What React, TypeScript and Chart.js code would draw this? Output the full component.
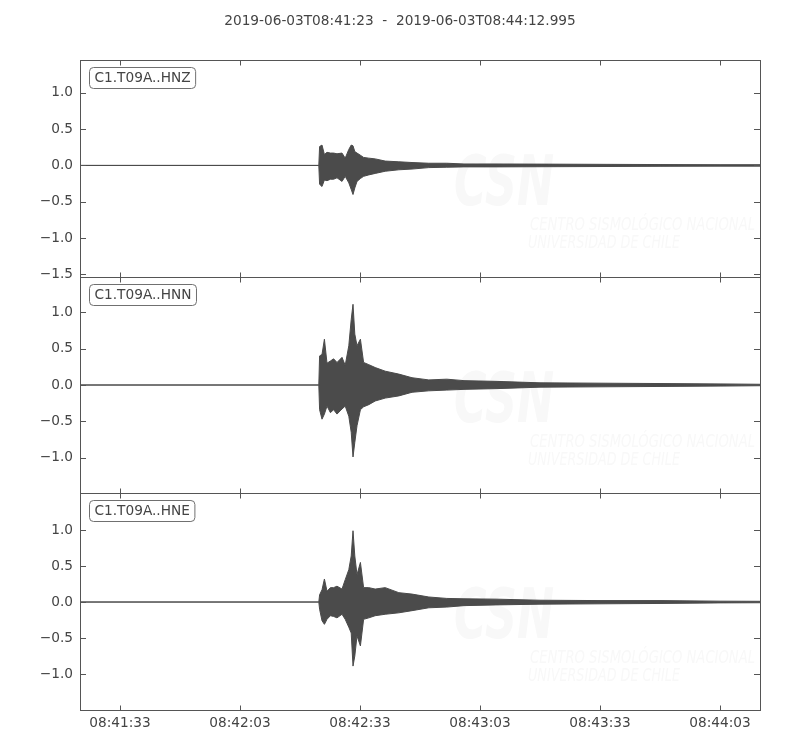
import { useEffect, useRef } from 'react'
import { Chart, registerables } from 'chart.js'

Chart.register(...registerables)

const TITLE = '2019-06-03T08:41:23  -  2019-06-03T08:44:12.995'
const channels = ['C1.T09A..HNZ', 'C1.T09A..HNN', 'C1.T09A..HNE']

// seconds after 08:41:23 (envelope sample times)
const times = [0, 59.7, 59.9, 60.5, 61.1, 61.75, 62.6, 63.4, 64.25, 65.5, 66.3, 67.2, 67.8, 68.25, 68.7, 69.25, 70.1, 70.9, 72.2, 73.8, 76.3, 79.7, 83, 87.2, 91.7, 96, 104, 115, 130, 145, 160, 170]

// upper / lower envelope of each trace
const hnzUpper = [0, 0, 0.26, 0.28, 0.15, 0.18, 0.17, 0.17, 0.16, 0.17, 0.10, 0.22, 0.28, 0.27, 0.19, 0.17, 0.14, 0.11, 0.10, 0.09, 0.06, 0.05, 0.04, 0.03, 0.03, 0.02, 0.02, 0.018, 0.015, 0.012, 0.01, 0.01]
const hnzLower = [0, 0, -0.26, -0.29, -0.20, -0.21, -0.19, -0.19, -0.17, -0.22, -0.15, -0.24, -0.33, -0.40, -0.31, -0.22, -0.18, -0.15, -0.13, -0.11, -0.08, -0.06, -0.05, -0.03, -0.025, -0.02, -0.02, -0.018, -0.015, -0.012, -0.01, -0.01]
const hnnUpper = [0, 0, 0.40, 0.42, 0.63, 0.30, 0.33, 0.36, 0.31, 0.38, 0.27, 0.54, 0.90, 1.11, 0.70, 0.54, 0.63, 0.31, 0.28, 0.24, 0.19, 0.15, 0.10, 0.07, 0.08, 0.06, 0.05, 0.03, 0.025, 0.02, 0.015, 0.01]
const hnnLower = [0, 0, -0.34, -0.47, -0.40, -0.29, -0.38, -0.34, -0.40, -0.33, -0.29, -0.43, -0.65, -0.99, -0.79, -0.56, -0.34, -0.30, -0.27, -0.22, -0.18, -0.15, -0.10, -0.08, -0.07, -0.06, -0.05, -0.03, -0.025, -0.02, -0.015, -0.01]
const hneUpper = [0, 0, 0.10, 0.17, 0.32, 0.15, 0.20, 0.20, 0.22, 0.18, 0.31, 0.45, 0.64, 0.99, 0.64, 0.38, 0.55, 0.20, 0.20, 0.18, 0.20, 0.13, 0.11, 0.07, 0.05, 0.045, 0.04, 0.025, 0.02, 0.02, 0.012, 0.01]
const hneLower = [0, 0, -0.10, -0.26, -0.31, -0.24, -0.19, -0.20, -0.22, -0.17, -0.24, -0.35, -0.43, -0.89, -0.75, -0.47, -0.61, -0.24, -0.22, -0.19, -0.17, -0.15, -0.12, -0.08, -0.07, -0.05, -0.04, -0.03, -0.025, -0.02, -0.012, -0.01]

const xTickSeconds = [10, 40, 70, 100, 130, 160]
const xTickLabels = ['08:41:33', '08:42:03', '08:42:33', '08:43:03', '08:43:33', '08:44:03']
const xMax = 169.995

const yTicks = [
  [-1.5, -1, -0.5, 0, 0.5, 1],
  [-1, -0.5, 0, 0.5, 1],
  [-1, -0.5, 0, 0.5, 1],
]
const yRanges = [[-1.53, 1.45], [-1.49, 1.49], [-1.5, 1.51]]

const TRACE = '#4b4b4b'
const FRAME = '#555555'
const TEXT = '#444444'
const FONT_SIZE = 13.7
const FONT = FONT_SIZE + 'px "DejaVu Sans"'

const axisIds = ['y1', 'y2', 'y3']

const toPoints = (vals) => vals.map((v, i) => ({ x: times[i], y: v }))

const roundRect = (ctx, x, y, w, h, r) => {
  ctx.beginPath()
  ctx.moveTo(x + r, y)
  ctx.lineTo(x + w - r, y)
  ctx.quadraticCurveTo(x + w, y, x + w, y + r)
  ctx.lineTo(x + w, y + h - r)
  ctx.quadraticCurveTo(x + w, y + h, x + w - r, y + h)
  ctx.lineTo(x + r, y + h)
  ctx.quadraticCurveTo(x, y + h, x, y + h - r)
  ctx.lineTo(x, y + r)
  ctx.quadraticCurveTo(x, y, x + r, y)
  ctx.closePath()
}

// faint CSN watermark behind each trace
const watermarkPlugin = {
  id: 'watermark',
  beforeDatasetsDraw(chart) {
    const { ctx, chartArea } = chart
    ctx.save()
    ctx.fillStyle = '#f8f8f8'
    axisIds.forEach((id) => {
      const top = chart.scales[id].top
      const fit = (text, font, x, y, w) => {
        ctx.font = font
        const m = ctx.measureText(text).width
        ctx.save()
        ctx.translate(x, y)
        ctx.scale(w / m, 1)
        ctx.fillText(text, 0, 0)
        ctx.restore()
      }
      ctx.textBaseline = 'alphabetic'
      fit('CSN', 'italic bold 70px "DejaVu Sans"', chartArea.left + 374, top + 145, 100)
      fit('CENTRO SISMOLÓGICO NACIONAL', 'italic 18px "DejaVu Sans"', chartArea.left + 450, top + 170, 225)
      fit('UNIVERSIDAD DE CHILE', 'italic 18px "DejaVu Sans"', chartArea.left + 448, top + 188, 152)
    })
    ctx.restore()
  },
}

// frames, inward ticks, channel labels and the title
const framePlugin = {
  id: 'frame',
  afterDraw(chart) {
    const { ctx, chartArea, scales } = chart
    const left = chartArea.left
    const right = chartArea.right
    ctx.save()
    ctx.strokeStyle = FRAME
    ctx.lineWidth = 1
    axisIds.forEach((id, i) => {
      const ys = scales[id]
      const top = Math.round(ys.top) + 0.5
      const bottom = Math.round(ys.bottom) + 0.5
      ctx.strokeRect(left + 0.5, top, right - left, bottom - top)
      ctx.beginPath()
      yTicks[i].forEach((v) => {
        const py = Math.round(ys.getPixelForValue(v)) + 0.5
        ctx.moveTo(left, py)
        ctx.lineTo(left + 6, py)
        ctx.moveTo(right, py)
        ctx.lineTo(right - 6, py)
      })
      xTickSeconds.forEach((s) => {
        const px = Math.round(scales.x.getPixelForValue(s)) + 0.5
        ctx.moveTo(px, top)
        ctx.lineTo(px, top + 5)
        ctx.moveTo(px, bottom)
        ctx.lineTo(px, bottom - 5)
      })
      ctx.stroke()

      ctx.font = FONT
      const tw = ctx.measureText(channels[i]).width
      const bx = left + 9.5
      const by = top + 7
      roundRect(ctx, bx, by, tw + 10, 21, 4)
      ctx.fillStyle = '#ffffff'
      ctx.fill()
      ctx.strokeStyle = '#707070'
      ctx.stroke()
      ctx.strokeStyle = FRAME
      ctx.fillStyle = TEXT
      ctx.textBaseline = 'middle'
      ctx.textAlign = 'left'
      ctx.fillText(channels[i], bx + 5, by + 11)
    })
    ctx.font = FONT
    ctx.fillStyle = TEXT
    ctx.textAlign = 'center'
    ctx.textBaseline = 'middle'
    ctx.fillText(TITLE, chart.width / 2, 21)
    ctx.restore()
  },
}

const envelopes = [
  [hnzUpper, hnzLower],
  [hnnUpper, hnnLower],
  [hneUpper, hneLower],
]

export default function App() {
  const canvasRef = useRef(null)

  useEffect(() => {
    if (!canvasRef.current) return

    const datasets = []
    envelopes.forEach(([up, low], i) => {
      const common = {
        yAxisID: axisIds[i],
        borderColor: TRACE,
        backgroundColor: TRACE,
        borderWidth: 1,
        pointRadius: 0,
        tension: 0,
      }
      datasets.push({ ...common, label: channels[i] + ' max', data: toPoints(up), fill: false })
      datasets.push({ ...common, label: channels[i] + ' min', data: toPoints(low), fill: '-1' })
    })

    const yScale = (i) => ({
      type: 'linear',
      position: 'left',
      stack: 'traces',
      stackWeight: 1,
      weight: 3 - i,
      min: yRanges[i][0],
      max: yRanges[i][1],
      grid: { display: false, drawTicks: false },
      border: { display: false },
      afterFit: (scale) => { scale.width = 80 },
      afterBuildTicks: (scale) => { scale.ticks = yTicks[i].map((v) => ({ value: v })) },
      ticks: {
        padding: 7,
        color: TEXT,
        font: { family: 'DejaVu Sans', size: FONT_SIZE },
        callback: (v) => Number(v).toFixed(1).replace('-', '\u2212'),
      },
    })

    const chart = new Chart(canvasRef.current, {
      type: 'line',
      data: { datasets },
      options: {
        animation: false,
        responsive: false,
        layout: { padding: { top: 60, right: 40, left: 0, bottom: 0 } },
        scales: {
          x: {
            type: 'linear',
            min: 0,
            max: xMax,
            grid: { display: false, drawTicks: false },
            border: { display: false },
            afterFit: (scale) => { scale.height = 40 },
            afterBuildTicks: (scale) => { scale.ticks = xTickSeconds.map((v) => ({ value: v })) },
            ticks: {
              padding: 5,
              autoSkip: false,
              maxRotation: 0,
              color: TEXT,
              font: { family: 'DejaVu Sans', size: FONT_SIZE },
              callback: (v, idx) => xTickLabels[idx],
            },
          },
          y1: yScale(0),
          y2: yScale(1),
          y3: yScale(2),
        },
        plugins: {
          legend: { display: false },
          tooltip: { enabled: false },
        },
      },
      plugins: [watermarkPlugin, framePlugin],
    })

    return () => chart.destroy()
  }, [])

  return (
    <div style={{ position: 'absolute', left: 0, top: 0, width: 800, height: 750, background: '#fff' }}>
      <canvas ref={canvasRef} width={800} height={750} style={{ display: 'block' }} />
    </div>
  )
}
